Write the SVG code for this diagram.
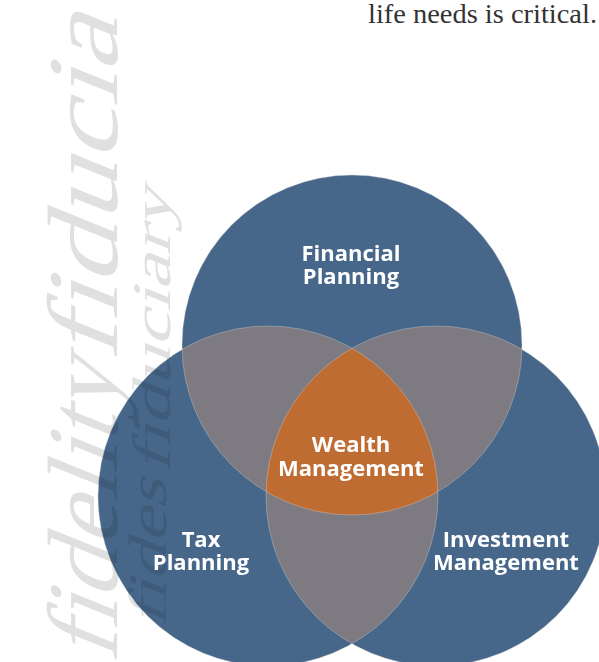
<svg xmlns="http://www.w3.org/2000/svg" width="599" height="662" viewBox="0 0 599 662">
<style>
.blue{fill:#46678a}
.gray{fill:#7e7a81}
.orange{fill:#bf6c32}
.edge{fill:none;stroke:#d8d4d0;stroke-opacity:0.55;stroke-width:0.7}
.lbl{font-family:"Open Sans","Liberation Sans",sans-serif;font-weight:700;font-size:22px;fill:#ffffff;text-anchor:middle}
.wm{font-family:"Liberation Serif",serif;font-style:normal;font-weight:400;fill:#e0e0e0}
</style>
<defs>
<clipPath id="cTop"><circle cx="352" cy="345" r="170"/></clipPath>
<clipPath id="cLeft"><circle cx="268" cy="496" r="170"/></clipPath>
<clipPath id="cRight"><circle cx="436" cy="496" r="170"/></clipPath>
</defs>
<rect width="599" height="662" fill="#ffffff"/>
<text x="597" y="22.5" text-anchor="end" font-family="Liberation Serif, serif" font-size="28" fill="#333333" textLength="229" lengthAdjust="spacingAndGlyphs">life needs is critical.</text>
<g id="financial-planning">
<circle class="blue" cx="352" cy="345" r="170"/>
</g>
<g id="tax-planning">
<circle class="blue" cx="268" cy="496" r="170"/>
</g>
<g id="investment-management">
<circle class="blue" cx="436" cy="496" r="170"/>
</g>
<g id="overlaps">
<circle class="gray" cx="268" cy="496" r="170" clip-path="url(#cTop)"/>
<circle class="gray" cx="436" cy="496" r="170" clip-path="url(#cTop)"/>
<circle class="gray" cx="436" cy="496" r="170" clip-path="url(#cLeft)"/>
</g>
<g id="wealth-management">
<g clip-path="url(#cTop)"><circle class="orange" cx="436" cy="496" r="170" clip-path="url(#cLeft)"/></g>
</g>
<g id="connectors">
<circle class="edge" cx="352" cy="345" r="170"/>
<circle class="edge" cx="268" cy="496" r="170"/>
<circle class="edge" cx="436" cy="496" r="170"/>
</g>
<g id="watermark" style="mix-blend-mode:multiply">
<text class="wm" transform="translate(117,664) rotate(-90) skewX(-22)" font-size="100" textLength="300" lengthAdjust="spacingAndGlyphs">fidelity</text>
<text class="wm" transform="translate(117,362) rotate(-90) skewX(-22)" font-size="100" textLength="344" lengthAdjust="spacingAndGlyphs">fiducia</text>
<text class="wm" transform="translate(166,628) rotate(-90) skewX(-22)" font-size="54" textLength="148" lengthAdjust="spacingAndGlyphs">fides</text>
<text class="wm" transform="translate(170,474) rotate(-90) skewX(-22)" font-size="54" textLength="284" lengthAdjust="spacingAndGlyphs">fiduciary</text>
</g>
<g id="labels">
<text class="lbl" x="351" y="261">Financial</text>
<text class="lbl" x="351" y="284">Planning</text>
<text class="lbl" x="351" y="452">Wealth</text>
<text class="lbl" x="351" y="476">Management</text>
<text class="lbl" x="506" y="547">Investment</text>
<text class="lbl" x="506" y="570">Management</text>
<text class="lbl" x="201" y="547">Tax</text>
<text class="lbl" x="201" y="570">Planning</text>
</g>
</svg>
